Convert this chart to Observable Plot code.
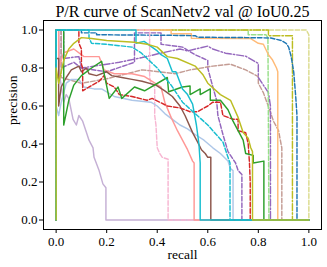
<!DOCTYPE html>
<html><head><meta charset="utf-8">
<script src="https://cdn.jsdelivr.net/npm/d3@7"></script>
<script src="https://cdn.jsdelivr.net/npm/@observablehq/plot@0.6"></script>
<style>body{margin:0;background:#fff} svg{display:block}</style>
</head><body><div id="chart"></div>
<script>
const titleText = "P/R curve of ScanNetv2 val @ IoU0.25";
const xLabel = "recall";
const yLabel = "precision";
const xTicks = [0, 0.2, 0.4, 0.6, 0.8, 1.0];
const yTicks = [0, 0.2, 0.4, 0.6, 0.8, 1.0];

// [recall, precision] pairs, one array per class curve
const blueDashed = [[0,0],[0,1],[0.1,1],[0.1,0.985],[0.16,0.985],[0.16,0.975],[0.45,0.972],[0.55,0.97],[0.56,0.962],[0.75,0.96],[0.85,0.958],[0.89,0.945],[0.91,0.93],[0.92,0.91],[0.93,0.86],[0.94,0.78],[0.948,0.65],[0.953,0.55],[0.953,0],[1,0]];
const orangeSolid = [[0,0],[0,1],[0.455,1],[0.455,0.98],[0.535,0.98],[0.535,0.956],[0.77,0.955],[0.8,0.93],[0.82,0.925],[0.84,0.87],[0.855,0.845],[0.872,0.8],[0.877,0.78],[0.877,0],[1,0]];
const oliveDashDot = [[0,0],[0,1],[0.84,1],[0.84,0.97],[0.935,0.97],[0.935,0],[1,0]];
const yellowDashed = [[0,0],[0,1],[0.99,1],[1,0.975],[1,0]];
const lightGreenDashed = [[0,0],[0,1],[0.76,1],[0.76,0.975],[0.83,0.975],[0.838,0.96],[0.842,0],[1,0]];
const purpleDashDot = [[0,0],[0,1],[0.03,1],[0.03,0.85],[0.09,0.86],[0.1,0.8],[0.2,0.82],[0.25,0.83],[0.34,0.855],[0.42,0.88],[0.49,0.9],[0.52,0.89],[0.6,0.915],[0.62,0.9],[0.67,0.878],[0.75,0.862],[0.8,0.824],[0.8,0.75],[0.84,0.67],[0.848,0.6],[0.848,0],[1,0]];
const purpleDashed = [[0,0],[0,1],[0.02,1],[0.02,0.8],[0.07,0.83],[0.1,0.8],[0.2,0.78],[0.31,0.83],[0.31,0.985],[0.415,0.985],[0.415,0.925],[0.5,0.91],[0.55,0.87],[0.6,0.84],[0.6,0.8],[0.62,0.7],[0.635,0.63],[0.64,0.55],[0.66,0.45],[0.68,0.36],[0.71,0.3],[0.72,0.26],[0.735,0.24],[0.735,0],[1,0]];
const tanDashed = [[0,0],[0,1],[0.02,1],[0.02,0.75],[0.1,0.72],[0.19,0.74],[0.34,0.79],[0.47,0.77],[0.53,0.79],[0.62,0.81],[0.69,0.82],[0.75,0.79],[0.8,0.755],[0.8,0.72],[0.82,0.67],[0.85,0.56],[0.86,0.52],[0.88,0.47],[0.89,0.4],[0.893,0.38],[0.893,0],[1,0]];
const oliveSolid = [[0,0],[0,0.8],[0.01,0.72],[0.03,0.84],[0.05,0.9],[0.07,0.93],[0.1,0.96],[0.14,0.955],[0.2,0.945],[0.31,0.936],[0.36,0.925],[0.4,0.91],[0.44,0.86],[0.48,0.85],[0.55,0.81],[0.58,0.766],[0.6,0.72],[0.65,0.66],[0.69,0.63],[0.72,0.54],[0.74,0.46],[0.76,0.43],[0.77,0.38],[0.777,0.36],[0.777,0],[1,0]];
const cyanSolid = [[0,0],[0,1],[0.316,1],[0.316,0.93],[0.348,0.94],[0.4,0.89],[0.415,0.87],[0.44,0.85],[0.46,0.78],[0.474,0.78],[0.5,0.69],[0.52,0.66],[0.54,0.61],[0.555,0.5],[0.565,0.4],[0.57,0.3],[0.57,0],[1,0]];
const cyanDashed = [[0,0],[0,1],[0.13,1],[0.13,0.96],[0.14,0.93],[0.2,0.925],[0.3,0.91],[0.336,0.88],[0.4,0.8],[0.455,0.71],[0.5,0.62],[0.55,0.56],[0.6,0.5],[0.64,0.44],[0.66,0.41],[0.68,0.33],[0.688,0.3],[0.688,0],[1,0]];
const greenSolid = [[0,0],[0,1],[0.03,1],[0.03,0.5],[0.05,0.63],[0.07,0.71],[0.1,0.76],[0.14,0.8],[0.18,0.835],[0.21,0.64],[0.245,0.7],[0.26,0.64],[0.31,0.7],[0.35,0.68],[0.44,0.75],[0.445,0.675],[0.5,0.7],[0.53,0.705],[0.53,0.66],[0.57,0.69],[0.57,0.66],[0.61,0.69],[0.61,0.63],[0.65,0.63],[0.68,0.58],[0.7,0.52],[0.72,0.47],[0.74,0.42],[0.75,0.35],[0.78,0.34],[0.78,0.3],[0.822,0.31],[0.822,0],[1,0]];
const redDashed = [[0,0],[0,1],[0.09,1],[0.09,0.93],[0.1,0.9],[0.1,0.82],[0.105,0.8],[0.105,0.68],[0.13,0.7],[0.17,0.73],[0.19,0.76],[0.2,0.72],[0.23,0.7],[0.25,0.66],[0.3,0.65],[0.36,0.63],[0.38,0.64],[0.44,0.6],[0.49,0.59],[0.53,0.57],[0.56,0.57],[0.6,0.6],[0.62,0.62],[0.65,0.62],[0.66,0.55],[0.7,0.53],[0.72,0.53],[0.72,0.47],[0.75,0.46],[0.76,0.4],[0.765,0.3],[0.768,0.2],[0.768,0],[1,0]];
const brownSolid = [[0,0],[0,0.85],[0.01,0.85],[0.01,0.6],[0.02,0.7],[0.04,0.75],[0.06,0.79],[0.09,0.81],[0.1,0.78],[0.12,0.8],[0.13,0.77],[0.16,0.76],[0.2,0.78],[0.22,0.76],[0.26,0.75],[0.3,0.74],[0.34,0.73],[0.395,0.71],[0.43,0.68],[0.46,0.65],[0.49,0.6],[0.51,0.55],[0.54,0.46],[0.56,0.41],[0.575,0.37],[0.59,0.35],[0.6,0.33],[0.612,0.33],[0.612,0],[1,0]];
const lightBlueSolid = [[0,0],[0,0.6],[0.01,0.55],[0.02,0.62],[0.04,0.72],[0.06,0.74],[0.09,0.74],[0.11,0.7],[0.15,0.69],[0.18,0.69],[0.23,0.65],[0.3,0.63],[0.375,0.62],[0.4,0.6],[0.43,0.56],[0.46,0.53],[0.49,0.5],[0.52,0.48],[0.55,0.45],[0.585,0.42],[0.62,0.38],[0.65,0.35],[0.68,0.31],[0.69,0.27],[0.7,0.26],[0.7,0],[1,0]];
const salmonSolid = [[0,0],[0,1],[0.01,1],[0.01,0.8],[0.03,0.88],[0.07,0.9],[0.11,0.86],[0.17,0.86],[0.19,0.79],[0.23,0.77],[0.3,0.77],[0.35,0.755],[0.38,0.73],[0.415,0.7],[0.43,0.62],[0.455,0.54],[0.48,0.47],[0.5,0.42],[0.52,0.37],[0.54,0.31],[0.546,0.3],[0.546,0],[1,0]];
const lavenderSolid = [[0,0],[0,1],[0.01,1],[0.015,0.75],[0.02,0.71],[0.03,0.62],[0.04,0.66],[0.05,0.64],[0.067,0.53],[0.08,0.5],[0.09,0.55],[0.105,0.52],[0.12,0.46],[0.13,0.42],[0.146,0.38],[0.15,0.33],[0.17,0.26],[0.185,0.19],[0.197,0.17],[0.197,0],[1,0]];
const pinkDashed = [[0,0],[0,1],[0.37,1],[0.37,0.75],[0.375,0.72],[0.39,0.7],[0.39,0.55],[0.395,0.5],[0.4,0.38],[0.41,0.35],[0.42,0.33],[0.443,0.32],[0.443,0],[1,0]];

const DASH = "4.5,2", DASHDOT = "7,2,1.5,2";
const curves = [
  [purpleDashed, "#9467bd", DASH],
  [tanDashed, "#c49c94", DASH],
  [purpleDashDot, "#9467bd", DASHDOT],
  [lightGreenDashed, "#98df8a", DASH],
  [yellowDashed, "#dbdb8d", DASH],
  [oliveDashDot, "#bcbd22", DASHDOT],
  [orangeSolid, "#ffbb78", null],
  [blueDashed, "#1f77b4", DASH],
  [lavenderSolid, "#c5b0d5", null],
  [pinkDashed, "#f7b6d2", DASH],
  [lightBlueSolid, "#aec7e8", null],
  [salmonSolid, "#ff9896", null],
  [brownSolid, "#8c564b", null],
  [redDashed, "#d62728", DASH],
  [greenSolid, "#2ca02c", null],
  [cyanDashed, "#17becf", DASH],
  [cyanSolid, "#17becf", null],
  [oliveSolid, "#bcbd22", null]
];

const lineMarks = curves.map(([pts, color, dash]) =>
  Plot.line(pts.map(([r, p]) => ({recall: r, precision: p})), {
    x: "recall", y: "precision", stroke: color, strokeWidth: 1.45,
    strokeDasharray: dash || undefined, curve: "linear"
  })
);

const chart = Plot.plot({
  width: 327, height: 267,
  marginLeft: 43, marginRight: 6, marginTop: 20, marginBottom: 38,
  style: {fontFamily: "'Liberation Serif', 'Times New Roman', serif", fontSize: "13px", background: "#fff", color: "#000"},
  x: {domain: [-0.05, 1.05]},
  y: {domain: [-0.05, 1.05]},
  marks: [
    ...lineMarks,
    Plot.frame({stroke: "#000", strokeWidth: 1}),
    Plot.axisX({ticks: xTicks, tickFormat: d3.format(".1f"), tickSize: 4, tickPadding: 3, label: null, fontSize: 13}),
    Plot.axisY({ticks: yTicks, tickFormat: d3.format(".1f"), tickSize: 4, tickPadding: 2, label: null, fontSize: 13}),
    Plot.text([xLabel], {text: d => d, frameAnchor: "bottom", dy: 29, lineAnchor: "bottom", fontSize: 13.5, fill: "#000"}),
    Plot.text([yLabel], {text: d => d, frameAnchor: "left", dx: -27, rotate: -90, lineAnchor: "bottom", fontSize: 13.5, fill: "#000"}),
    Plot.text([titleText], {text: d => d, frameAnchor: "top", dy: -4, lineAnchor: "bottom", fontSize: 16, fill: "#000"})
  ]
});
document.getElementById("chart").appendChild(chart);
</script>
</body></html>
